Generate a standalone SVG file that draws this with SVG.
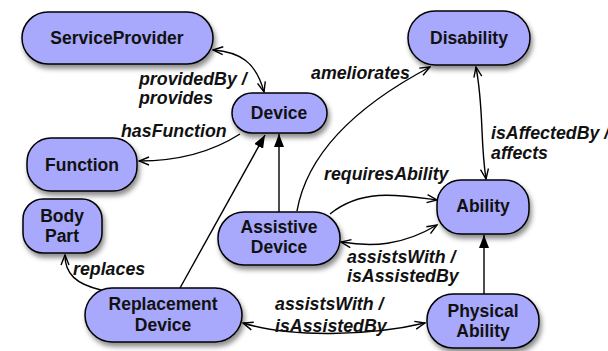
<svg xmlns="http://www.w3.org/2000/svg" width="608" height="351" viewBox="0 0 608 351">
  <style>
    .node rect { fill: #a8a8fc; stroke: #000; stroke-width: 1.5; filter: url(#shadow); }
    .node text { font-family: "Liberation Sans", Arial, sans-serif; font-weight: bold; font-size: 17.5px; text-anchor: middle; fill: #111; }
    .edge { fill: none; stroke: #000; stroke-width: 1.4; }
    .open-end { marker-end: url(#open); }
    .open-start { marker-start: url(#openStart); }
    .solid-end { marker-end: url(#solid); }
    .lbl { font-family: "Liberation Sans", Arial, sans-serif; font-weight: bold; font-style: italic; font-size: 17.8px; fill: #111; }
  </style>
  <defs>
    <filter id="shadow" x="-20%" y="-20%" width="140%" height="160%">
      <feDropShadow dx="2" dy="4" stdDeviation="2.5" flood-color="#000" flood-opacity="0.45"/>
    </filter>
    <marker id="open" viewBox="0 0 12 10" refX="11" refY="5" markerWidth="12" markerHeight="10" markerUnits="userSpaceOnUse" orient="auto">
      <path d="M1,1 L11,5 L1,9" fill="none" stroke="#000" stroke-width="1.4"/>
    </marker>
    <marker id="openStart" viewBox="0 0 12 10" refX="1" refY="5" markerWidth="12" markerHeight="10" markerUnits="userSpaceOnUse" orient="auto">
      <path d="M11,1 L1,5 L11,9" fill="none" stroke="#000" stroke-width="1.4"/>
    </marker>
    <marker id="solid" viewBox="0 0 14 10" refX="13" refY="5" markerWidth="14" markerHeight="10" markerUnits="userSpaceOnUse" orient="auto">
      <path d="M0,0 L13,5 L0,10 Z" fill="#000"/>
    </marker>
  </defs>

  <!-- connectors -->
  <g id="connectors">
    <path class="edge open-start open-end" d="M213,50 C240,52 256,62 264,92"/>
    <path class="edge open-end" d="M240,134 C215,150 180,161 139,161"/>
    <path class="edge solid-end" d="M279,212 L279,134"/>
    <path class="edge solid-end" d="M180,288 L265,135"/>
    <path class="edge open-end" d="M297,211 C306,160 345,112 430,67"/>
    <path class="edge open-start open-end" d="M476,67 C484,110 480,140 486,179"/>
    <path class="edge open-end" d="M330,214 C362,188 400,195 437,200"/>
    <path class="edge open-start open-end" d="M341,242 C372,247 402,246 437,225"/>
    <path class="edge solid-end" d="M484,294 L484,235"/>
    <path class="edge open-start open-end" d="M243,323 C290,338 370,336 425,323"/>
    <path class="edge open-end" d="M101,290 C76,284 65,274 65,255"/>

    <text class="lbl" x="139" y="85">providedBy /</text>
    <text class="lbl" x="139" y="104">provides</text>
    <text class="lbl" x="121" y="137">hasFunction</text>
    <text class="lbl" x="311" y="79">ameliorates</text>
    <text class="lbl" x="491" y="139">isAffectedBy /</text>
    <text class="lbl" x="491" y="159">affects</text>
    <text class="lbl" x="324" y="180">requiresAbility</text>
    <text class="lbl" x="347" y="263">assistsWith /</text>
    <text class="lbl" x="347" y="282">isAssistedBy</text>
    <text class="lbl" x="73" y="275">replaces</text>
    <text class="lbl" x="275" y="310">assistsWith /</text>
    <text class="lbl" x="275" y="332">isAssistedBy</text>
  </g>

  <!-- nodes -->
  <g id="service-provider" class="node">
    <rect x="22" y="12" width="191" height="52" rx="26"/>
    <text x="117" y="44">ServiceProvider</text>
  </g>
  <g id="device" class="node">
    <rect x="232" y="93" width="95" height="40" rx="20"/>
    <text x="279" y="119">Device</text>
  </g>
  <g id="function" class="node">
    <rect x="27" y="138" width="110" height="53" rx="24"/>
    <text x="82" y="171">Function</text>
  </g>
  <g id="body-part" class="node">
    <rect x="23" y="199" width="79" height="54" rx="20"/>
    <text x="62" y="222">Body</text>
    <text x="62" y="242">Part</text>
  </g>
  <g id="replacement-device" class="node">
    <rect x="85" y="288" width="157" height="54" rx="27"/>
    <text x="163" y="310">Replacement</text>
    <text x="163" y="331">Device</text>
  </g>
  <g id="assistive-device" class="node">
    <rect x="218" y="212" width="122" height="53" rx="26"/>
    <text x="279" y="233">Assistive</text>
    <text x="279" y="253">Device</text>
  </g>
  <g id="disability" class="node">
    <rect x="408" y="11" width="122" height="54" rx="27"/>
    <text x="469" y="44">Disability</text>
  </g>
  <g id="ability" class="node">
    <rect x="437" y="180" width="92" height="54" rx="24"/>
    <text x="483" y="212">Ability</text>
  </g>
  <g id="physical-ability" class="node">
    <rect x="427" y="294" width="112" height="54" rx="26"/>
    <text x="483" y="317">Physical</text>
    <text x="483" y="337">Ability</text>
  </g>
</svg>
